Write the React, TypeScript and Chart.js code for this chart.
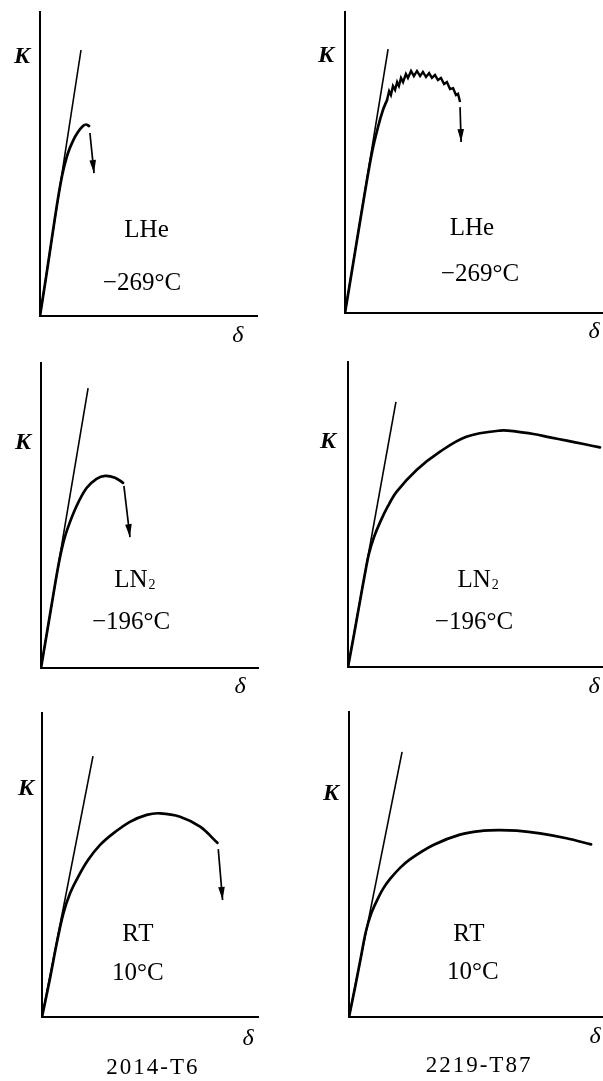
import React, { useEffect, useRef } from "react";
import { Chart, registerables } from "chart.js";

Chart.register(...registerables);

const PAGE_W = 603;
const PAGE_H = 1081;

// ---------- Panel 1: 2014-T6, LHe ----------
const P1_TANGENT_X = [0, 18.9];
const P1_TANGENT_Y = [0, 87.5];
const P1_CURVE_X = [0, 2.8, 5.5, 7.8, 9.7, 11.1, 12.9, 15.2, 17.5, 19.8, 21.2, 22.6];
const P1_CURVE_Y = [0, 12.8, 25.7, 36.5, 44.4, 49.0, 53.6, 57.6, 60.5, 62.5, 63.0, 62.5];
const P1_ARROW_X = [23.0, 24.9];
const P1_ARROW_Y = [60.2, 47.0];

// ---------- Panel 2: 2219-T87, LHe ----------
const P2_TANGENT_X = [0, 16.7];
const P2_TANGENT_Y = [0, 87.7];
const P2_CURVE_X = [0, 3.9, 7.8, 10.5, 12.8, 14.7, 16.3];
const P2_CURVE_Y = [0, 20.3, 40.5, 53.5, 61.8, 67.4, 70.8];
const P2_SERR_X = [16.3, 17.1, 17.8, 18.6, 19.4, 20.2, 20.9, 21.7, 22.5, 23.6, 24.4, 25.6, 26.7, 27.9, 29.1, 30.2, 31.4, 32.6, 33.7, 34.9, 36.0, 37.2, 38.4, 39.5, 40.7, 41.9, 43.0, 43.8, 44.6];
const P2_SERR_Y = [70.8, 73.7, 72.4, 75.4, 74.1, 76.7, 75.4, 78.1, 76.7, 79.4, 78.1, 80.4, 78.7, 80.4, 78.7, 80.1, 78.4, 79.7, 78.1, 79.1, 77.4, 78.1, 76.1, 76.7, 74.4, 74.7, 72.4, 72.8, 70.1];
const P2_ARROW_X = [44.6, 45.0];
const P2_ARROW_Y = [68.4, 56.8];

// ---------- Panel 3: 2014-T6, LN2 ----------
const P3_TANGENT_X = [0, 21.7];
const P3_TANGENT_Y = [0, 91.8];
const P3_CURVE_X = [0, 2.8, 5.5, 7.8, 9.7, 12.0, 16.4, 21.0, 25.6, 29.5, 34.1, 37.8];
const P3_CURVE_Y = [0, 11.8, 23.3, 32.8, 39.4, 45.2, 53.1, 59.0, 62.0, 63.0, 62.4, 60.7];
const P3_ARROW_X = [38.2, 41.0];
const P3_ARROW_Y = [59.7, 42.9];

// ---------- Panel 4: 2219-T87, LN2 ----------
const P4_TANGENT_X = [0, 18.8];
const P4_TANGENT_Y = [0, 86.9];
const P4_CURVE_X = [0, 2.4, 4.7, 6.7, 8.2, 10.2, 12.6, 15.7, 19.1, 26.9, 36.1, 46.4, 59.6, 66.2, 72.7, 79.2, 85.8, 92.4, 98.8];
const P4_CURVE_Y = [0, 10.8, 21.6, 30.8, 37.1, 42.6, 47.5, 52.8, 57.5, 64.6, 70.6, 75.5, 77.5, 77.2, 76.4, 75.3, 74.2, 73.1, 72.0];

// ---------- Panel 5: 2014-T6, RT ----------
const P5_TANGENT_X = [0, 23.6];
const P5_TANGENT_Y = [0, 85.8];
const P5_CURVE_X = [0, 3.7, 6.8, 9.9, 13.0, 16.8, 21.4, 26.9, 33.0, 40.7, 48.5, 54.6, 63.9, 73.2, 81.2];
const P5_CURVE_Y = [0, 12.7, 24.2, 34.1, 40.7, 46.2, 51.7, 56.6, 60.4, 64.2, 66.5, 67.0, 65.9, 62.6, 57.3];
const P5_ARROW_X = [81.6, 83.6];
const P5_ARROW_Y = [55.2, 38.5];

// ---------- Panel 6: 2219-T87, RT ----------
const P6_TANGENT_X = [0, 20.9];
const P6_TANGENT_Y = [0, 86.9];
const P6_CURVE_X = [0, 2.4, 4.7, 6.7, 8.7, 10.9, 13.4, 16.1, 20.1, 24.0, 33.2, 43.7, 52.9, 59.4, 66.0, 75.2, 85.6, 95.3];
const P6_CURVE_Y = [0, 9.8, 19.7, 28.2, 33.8, 38.0, 42.0, 45.2, 48.9, 51.7, 56.4, 59.8, 61.1, 61.3, 61.1, 60.2, 58.6, 56.6];

// ---------- Text ----------
const AXIS_Y_LABEL = "K";
const AXIS_X_LABEL = "δ";
const MEDIUM_LABELS = ["LHe", "LN", "RT"];
const TEMP_LABELS = ["−269°C", "−196°C", "10°C"];
const ALLOY_LABELS = ["2014-T6", "2219-T87"];

type Label = { text: string; sub?: string; x: number; y: number; font: string; size: number; spacing?: number };

const KFONT = "italic bold 24px 'Liberation Serif', serif";
const DFONT = "italic 24px 'Liberation Serif', serif";
const MFONT = "25px 'Liberation Serif', serif";
const CFONT = "23px 'Liberation Serif', serif";

const zip = (xs: number[], ys: number[]) => xs.map((x, i) => ({ x, y: ys[i] }));

const tangent = (xs: number[], ys: number[]) => ({
  data: zip(xs, ys), borderColor: "#000", borderWidth: 1.6, tension: 0, pointRadius: 0,
});
const curve = (xs: number[], ys: number[]) => ({
  data: zip(xs, ys), borderColor: "#000", borderWidth: 2.7, tension: 0.35, pointRadius: 0,
  borderCapStyle: "round", borderJoinStyle: "round",
});
const serr = (xs: number[], ys: number[]) => ({
  data: zip(xs, ys), borderColor: "#000", borderWidth: 2.4, tension: 0, pointRadius: 0, borderJoinStyle: "miter",
});
const arrow = (xs: number[], ys: number[]) => ({
  data: zip(xs, ys), borderColor: "#000", borderWidth: 1.7, tension: 0, pointRadius: 0, arrow: true,
});

const lbl = (text: string, x: number, y: number, font: string, size: number, extra: Partial<Label> = {}): Label =>
  ({ text, x, y, font, size, ...extra });

const PANELS = [
  {
    area: { left: 40, top: 12, right: 257, bottom: 316 },
    datasets: [tangent(P1_TANGENT_X, P1_TANGENT_Y), curve(P1_CURVE_X, P1_CURVE_Y), arrow(P1_ARROW_X, P1_ARROW_Y)],
    labels: [
      lbl(AXIS_Y_LABEL, -8.3, 85.8, KFONT, 24),
      lbl(AXIS_X_LABEL, 91.2, -5.9, DFONT, 24),
      lbl(MEDIUM_LABELS[0], 49.1, 28.8, MFONT, 25),
      lbl(TEMP_LABELS[0], 47.0, 11.2, MFONT, 25),
    ],
  },
  {
    area: { left: 345, top: 12, right: 603, bottom: 313 },
    datasets: [tangent(P2_TANGENT_X, P2_TANGENT_Y), curve(P2_CURVE_X, P2_CURVE_Y), serr(P2_SERR_X, P2_SERR_Y), arrow(P2_ARROW_X, P2_ARROW_Y)],
    labels: [
      lbl(AXIS_Y_LABEL, -7.4, 86.0, KFONT, 24),
      lbl(AXIS_X_LABEL, 96.5, -5.6, DFONT, 24),
      lbl(MEDIUM_LABELS[0], 49.2, 28.6, MFONT, 25),
      lbl(TEMP_LABELS[0], 52.3, 13.3, MFONT, 25),
    ],
  },
  {
    area: { left: 41, top: 363, right: 258, bottom: 668 },
    datasets: [tangent(P3_TANGENT_X, P3_TANGENT_Y), curve(P3_CURVE_X, P3_CURVE_Y), arrow(P3_ARROW_X, P3_ARROW_Y)],
    labels: [
      lbl(AXIS_Y_LABEL, -8.3, 74.4, KFONT, 24),
      lbl(AXIS_X_LABEL, 91.7, -5.6, DFONT, 24),
      lbl(MEDIUM_LABELS[1], 43.3, 29.2, MFONT, 25, { sub: "2" }),
      lbl(TEMP_LABELS[1], 41.5, 15.4, MFONT, 25),
    ],
  },
  {
    area: { left: 348, top: 362, right: 603, bottom: 667 },
    datasets: [tangent(P4_TANGENT_X, P4_TANGENT_Y), curve(P4_CURVE_X, P4_CURVE_Y)],
    labels: [
      lbl(AXIS_Y_LABEL, -7.8, 74.4, KFONT, 24),
      lbl(AXIS_X_LABEL, 96.5, -5.9, DFONT, 24),
      lbl(MEDIUM_LABELS[1], 51.0, 28.9, MFONT, 25, { sub: "2" }),
      lbl(TEMP_LABELS[1], 49.4, 15.1, MFONT, 25),
    ],
  },
  {
    area: { left: 42, top: 713, right: 258, bottom: 1017 },
    datasets: [tangent(P5_TANGENT_X, P5_TANGENT_Y), curve(P5_CURVE_X, P5_CURVE_Y), arrow(P5_ARROW_X, P5_ARROW_Y)],
    labels: [
      lbl(AXIS_Y_LABEL, -7.4, 75.6, KFONT, 24),
      lbl(AXIS_X_LABEL, 95.4, -6.6, DFONT, 24),
      lbl(MEDIUM_LABELS[2], 44.4, 27.6, MFONT, 25, { spacing: 1 }),
      lbl(TEMP_LABELS[2], 44.4, 14.8, MFONT, 25),
      lbl(ALLOY_LABELS[0], 50.9, -16.1, CFONT, 23, { spacing: 2 }),
    ],
  },
  {
    area: { left: 349, top: 712, right: 603, bottom: 1017 },
    datasets: [tangent(P6_TANGENT_X, P6_TANGENT_Y), curve(P6_CURVE_X, P6_CURVE_Y)],
    labels: [
      lbl(AXIS_Y_LABEL, -7.1, 73.8, KFONT, 24),
      lbl(AXIS_X_LABEL, 96.9, -5.9, DFONT, 24),
      lbl(MEDIUM_LABELS[2], 47.2, 27.5, MFONT, 25, { spacing: 1 }),
      lbl(TEMP_LABELS[2], 48.8, 15.1, MFONT, 25),
      lbl(ALLOY_LABELS[1], 50.8, -15.4, CFONT, 23, { spacing: 2 }),
    ],
  },
];

function makeOverlay(labels: Label[]) {
  return {
    id: "overlay",
    afterDatasetsDraw(chart: any) {
      const ctx = chart.ctx;
      chart.data.datasets.forEach((ds: any, i: number) => {
        if (!ds.arrow) return;
        const meta = chart.getDatasetMeta(i);
        const n = meta.data.length;
        const a = meta.data[n - 2];
        const b = meta.data[n - 1];
        const ang = Math.atan2(b.y - a.y, b.x - a.x);
        const len = 13;
        const hw = 3.3;
        const c = Math.cos(ang);
        const s = Math.sin(ang);
        ctx.save();
        ctx.fillStyle = "#000";
        ctx.beginPath();
        ctx.moveTo(b.x, b.y);
        ctx.lineTo(b.x - len * c + hw * s, b.y - len * s - hw * c);
        ctx.lineTo(b.x - len * c - hw * s, b.y - len * s + hw * c);
        ctx.closePath();
        ctx.fill();
        ctx.restore();
      });
    },
    afterDraw(chart: any) {
      const ctx = chart.ctx;
      const xs = chart.scales.x;
      const ys = chart.scales.y;
      ctx.save();
      ctx.fillStyle = "#000";
      ctx.textBaseline = "alphabetic";
      labels.forEach((l) => {
        const cx = xs.getPixelForValue(l.x);
        const cy = ys.getPixelForValue(l.y);
        const base = cy + l.size * 0.33;
        ctx.font = l.font;
        (ctx as any).letterSpacing = (l.spacing || 0) + "px";
        const w1 = ctx.measureText(l.text).width - (l.spacing || 0);
        let w2 = 0;
        const subFont = "14px 'Liberation Serif', serif";
        if (l.sub) {
          ctx.font = subFont;
          w2 = ctx.measureText(l.sub).width + 1;
          ctx.font = l.font;
        }
        const start = cx - (w1 + w2) / 2;
        ctx.textAlign = "left";
        ctx.fillText(l.text, start, base);
        if (l.sub) {
          (ctx as any).letterSpacing = "0px";
          ctx.font = subFont;
          ctx.fillText(l.sub, start + w1 + 1, base + 2);
        }
      });
      (ctx as any).letterSpacing = "0px";
      ctx.restore();
    },
  };
}

function Panel({ panel }: { panel: (typeof PANELS)[number] }) {
  const ref = useRef<HTMLCanvasElement>(null);
  useEffect(() => {
    if (!ref.current) return;
    const a = panel.area;
    const axis = {
      type: "linear" as const,
      min: 0,
      max: 100,
      display: true,
      ticks: { display: false, padding: 0 },
      grid: { display: false, drawTicks: false, tickLength: 0 },
      border: { display: true, color: "#000", width: 2 },
    };
    const chart = new Chart(ref.current, {
      type: "line",
      data: { datasets: panel.datasets as any },
      options: {
        animation: false,
        responsive: false,
        devicePixelRatio: 1,
        layout: { padding: { left: a.left, top: a.top, right: PAGE_W - a.right, bottom: PAGE_H - a.bottom } },
        plugins: { legend: { display: false }, tooltip: { enabled: false } },
        events: [],
        scales: { x: axis, y: axis },
      } as any,
      plugins: [makeOverlay(panel.labels)],
    });
    return () => chart.destroy();
  }, [panel]);
  return (
    <canvas
      ref={ref}
      width={PAGE_W}
      height={PAGE_H}
      style={{ position: "absolute", left: 0, top: 0, width: PAGE_W, height: PAGE_H }}
    />
  );
}

export default function App() {
  return (
    <div style={{ position: "absolute", left: 0, top: 0, width: PAGE_W, height: PAGE_H, background: "#fff", overflow: "hidden" }}>
      {PANELS.map((p, i) => (
        <Panel key={i} panel={p} />
      ))}
    </div>
  );
}
